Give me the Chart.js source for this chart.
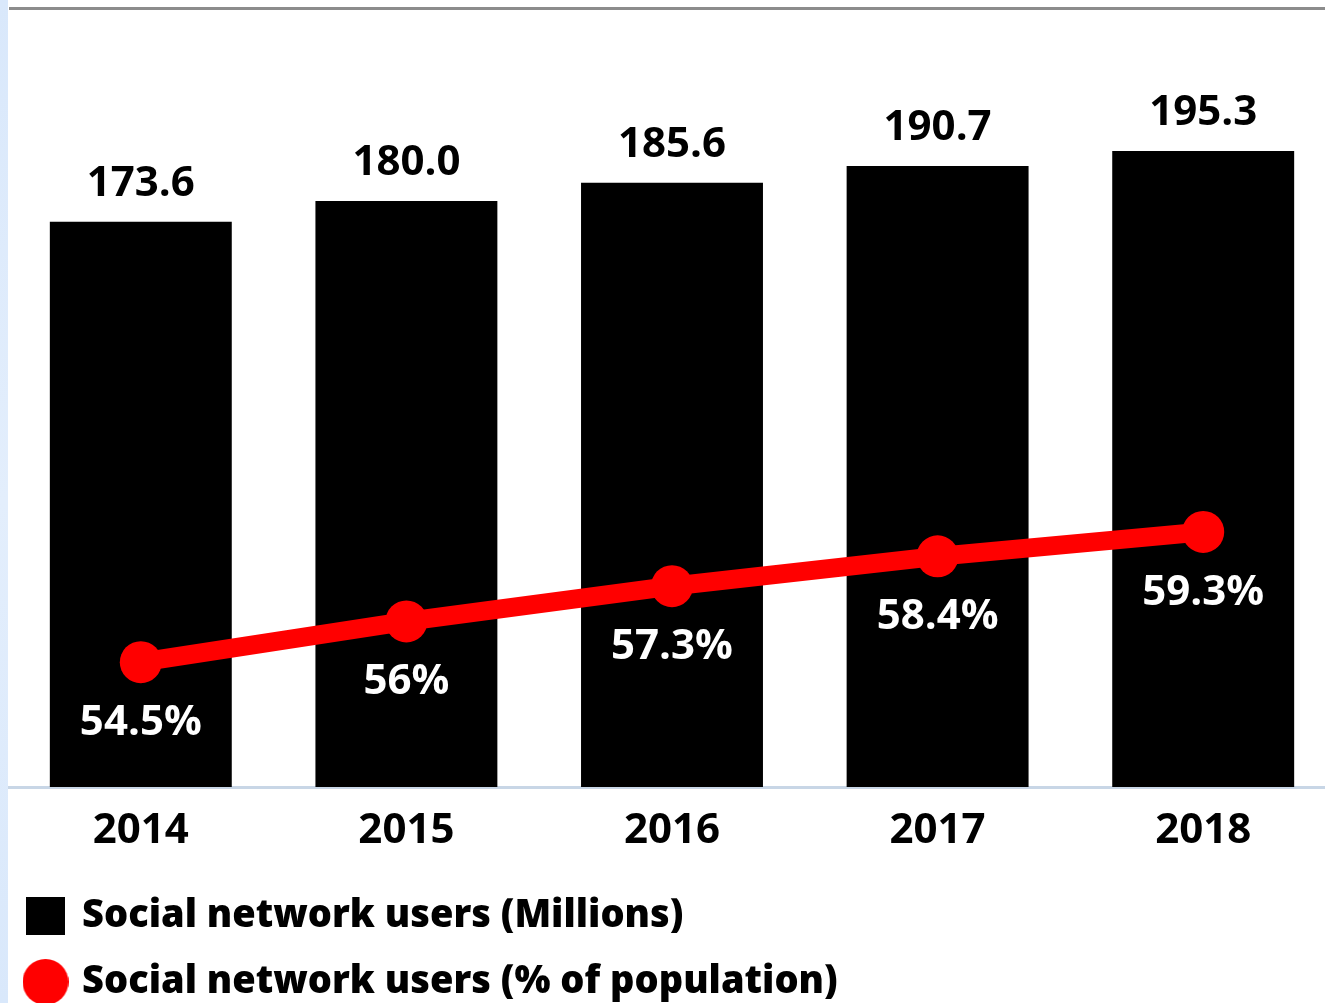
<!DOCTYPE html>
<html>
<head>
<meta charset="utf-8">
<script src="https://cdn.jsdelivr.net/npm/chart.js@4"></script>
<style>
  html, body { margin:0; padding:0; background:#fff; overflow:hidden; width:1325px; height:1003px; }
  #wrap { position:absolute; left:0; top:0; width:1336px; height:1011px; }
  #strip { position:absolute; left:0; top:0; width:8px; height:1003px; z-index:2;
           background:linear-gradient(#d9e8fb, #e3eefc 50%, #d9e8fb); }
  #topline { position:absolute; left:9px; top:7px; width:1320px; height:3px; background:#8c8c8c; z-index:2; }
</style>
</head>
<body>
<div id="strip"></div>
<div id="topline"></div>
<div id="wrap"><canvas id="chart" width="1336" height="1011"></canvas></div>
<script>
// data
const years = ['2014', '2015', '2016', '2017', '2018'];
const usersMillions = [173.6, 180.0, 185.6, 190.7, 195.3];
const usersPct = [54.5, 56, 57.3, 58.4, 59.3];
const seriesNames = ['Social network users (Millions)', 'Social network users (% of population)'];

const FONT = "'Open Sans', sans-serif";
const RED = '#ff0000';

function $(id){ return document.getElementById(id); }

// legend icons
function swatch(w, h, draw){
  const c = document.createElement('canvas');
  c.width = w; c.height = h;
  draw(c.getContext('2d'));
  return c;
}
const squareIcon = swatch(39, 38, g => { g.fillStyle = '#000'; g.fillRect(0, 0, 39, 38); });
const circleIcon = swatch(46, 46, g => { g.fillStyle = RED; g.beginPath(); g.arc(23, 23, 23, 0, Math.PI*2); g.fill(); });
const icons = [squareIcon, circleIcon];

// value labels above bars, percent labels under points
const valueLabels = {
  id: 'valueLabels',
  afterDatasetsDraw(chart){
    const ctx = chart.ctx;
    ctx.save();
    ctx.font = `700 42px ${FONT}`;
    ctx.textAlign = 'center';
    ctx.textBaseline = 'middle';
    chart.getDatasetMeta(0).data.forEach((el, i) => {
      ctx.fillStyle = '#000';
      ctx.fillText(usersMillions[i].toFixed(1), el.x, el.y - 38);
    });
    chart.getDatasetMeta(1).data.forEach((el, i) => {
      ctx.fillStyle = '#fff';
      ctx.fillText(usersPct[i] + '%', el.x, el.y + 61);
    });
    ctx.restore();
  }
};

new Chart($('chart'), {
  data: {
    labels: years,
    datasets: [
      {
        type: 'bar',
        label: seriesNames[0],
        data: usersMillions,
        backgroundColor: '#000',
        yAxisID: 'y',
        barPercentage: 0.685,
        categoryPercentage: 1,
        order: 1
      },
      {
        type: 'line',
        label: seriesNames[1],
        data: usersPct,
        borderColor: RED,
        backgroundColor: RED,
        borderWidth: 19,
        pointRadius: 21,
        pointBackgroundColor: RED,
        pointBorderWidth: 0,
        yAxisID: 'y1',
        order: 0
      }
    ]
  },
  options: {
    responsive: false,
    devicePixelRatio: 1,
    animation: false,
    layout: { padding: 0, autoPadding: false },
    plugins: {
      tooltip: { enabled: false },
      legend: {
        position: 'bottom',
        align: 'start',
        labels: {
          usePointStyle: true,
          pointStyleWidth: 35,
          padding: 28,
          color: '#000',
          font: { family: FONT, size: 38, weight: '800' },
          generateLabels(chart){
            const items = Chart.defaults.plugins.legend.labels.generateLabels(chart);
            items.sort((a, b) => a.datasetIndex - b.datasetIndex);
            items.forEach(it => { it.pointStyle = icons[it.datasetIndex]; });
            return items;
          }
        }
      }
    },
    scales: {
      x: {
        grid: { display: false },
        border: { display: true, color: '#c8d6e6', width: 3 },
        ticks: { color: '#000', padding: 11, font: { family: FONT, size: 42, weight: '700' } },
        afterFit(s){ s.height = 82; }
      },
      y: {
        position: 'left',
        min: 0,
        max: 241.7,
        grid: { display: false },
        border: { display: false },
        ticks: { display: false },
        afterFit(s){ s.width = 8; }
      },
      y1: {
        display: false,
        min: 49.9,
        max: 78.9
      }
    }
  },
  plugins: [valueLabels]
});
</script>
</body>
</html>
